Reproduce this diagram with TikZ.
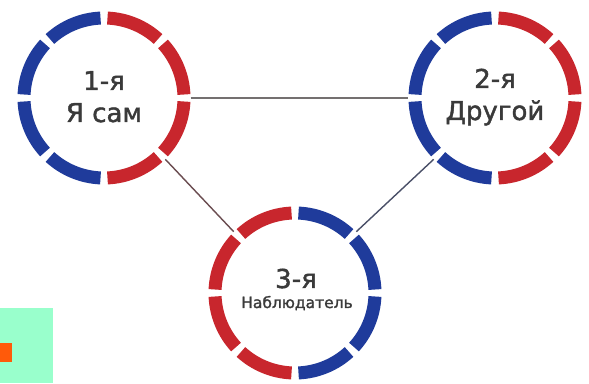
\documentclass[tikz,border=0pt]{standalone}
\usepackage{fontspec}
\setmainfont{DejaVu Sans}
\newfontfamily\medfont[FakeBold=1.6]{DejaVu Sans}
\definecolor{rblue}{HTML}{1F3B9B}
\definecolor{rred}{HTML}{C8262D}
\definecolor{txt}{HTML}{3A3A3A}
\definecolor{mint}{HTML}{99FFCC}
\definecolor{orng}{HTML}{FF5A0A}
\definecolor{lgray}{HTML}{747070}
\definecolor{lred}{HTML}{6A4C50}
\definecolor{lblue}{HTML}{4A5068}
\begin{document}
\begin{tikzpicture}[x=1pt,y=1pt]
\tikzset{
  ring/.style={circle, minimum size=173pt, inner sep=0pt},
  seg/.style={line width=13pt},
  link/.style={line width=1.4pt},
  big/.style={font=\medfont\fontsize{26}{30}\selectfont, text=txt, anchor=base, inner sep=0pt},
  small/.style={font=\medfont\fontsize{15.5}{18}\selectfont, text=txt, anchor=base, inner sep=0pt},
}
\useasboundingbox (0,0) rectangle (589,383);
\fill[white] (0,0) rectangle (589,383);
\fill[mint] (0,0) rectangle (53,75);
\fill[orng] (0,21) rectangle (12,40);

\node[ring] (c1) at (104,285) {};
\node[ring] (c2) at (495,285) {};
\node[ring] (c3) at (295,90) {};

\foreach \n/\lc/\rc in {c1/rblue/rred, c2/rblue/rred, c3/rred/rblue} {
  \foreach \s in {92.5,137.5,182.5,227.5}
    \draw[seg, \lc] ([shift={(\s:80pt)}]\n.center) arc[start angle=\s, delta angle=40, radius=80pt];
  \foreach \s in {-87.5,-42.5,2.5,47.5}
    \draw[seg, \rc] ([shift={(\s:80pt)}]\n.center) arc[start angle=\s, delta angle=40, radius=80pt];
}

\draw[link, lgray] (c1.0) -- (c2.180);
\draw[link, lred] (c1.-45) -- (c3.135);
\draw[link, lblue] (c2.-135) -- (c3.45);

\node[big] (t1a) at (104,293) {1-я};
\node[big] (t1b) at (104,261) {Я сам};
\node[big] (t2a) at (495,295) {2-я};
\node[big] (t2b) at (495,263) {Другой};
\node[big] (t3a) at (296,95) {3-я};
\node[small] (t3b) at (297,75) {Наблюдатель};
\end{tikzpicture}
\end{document}
